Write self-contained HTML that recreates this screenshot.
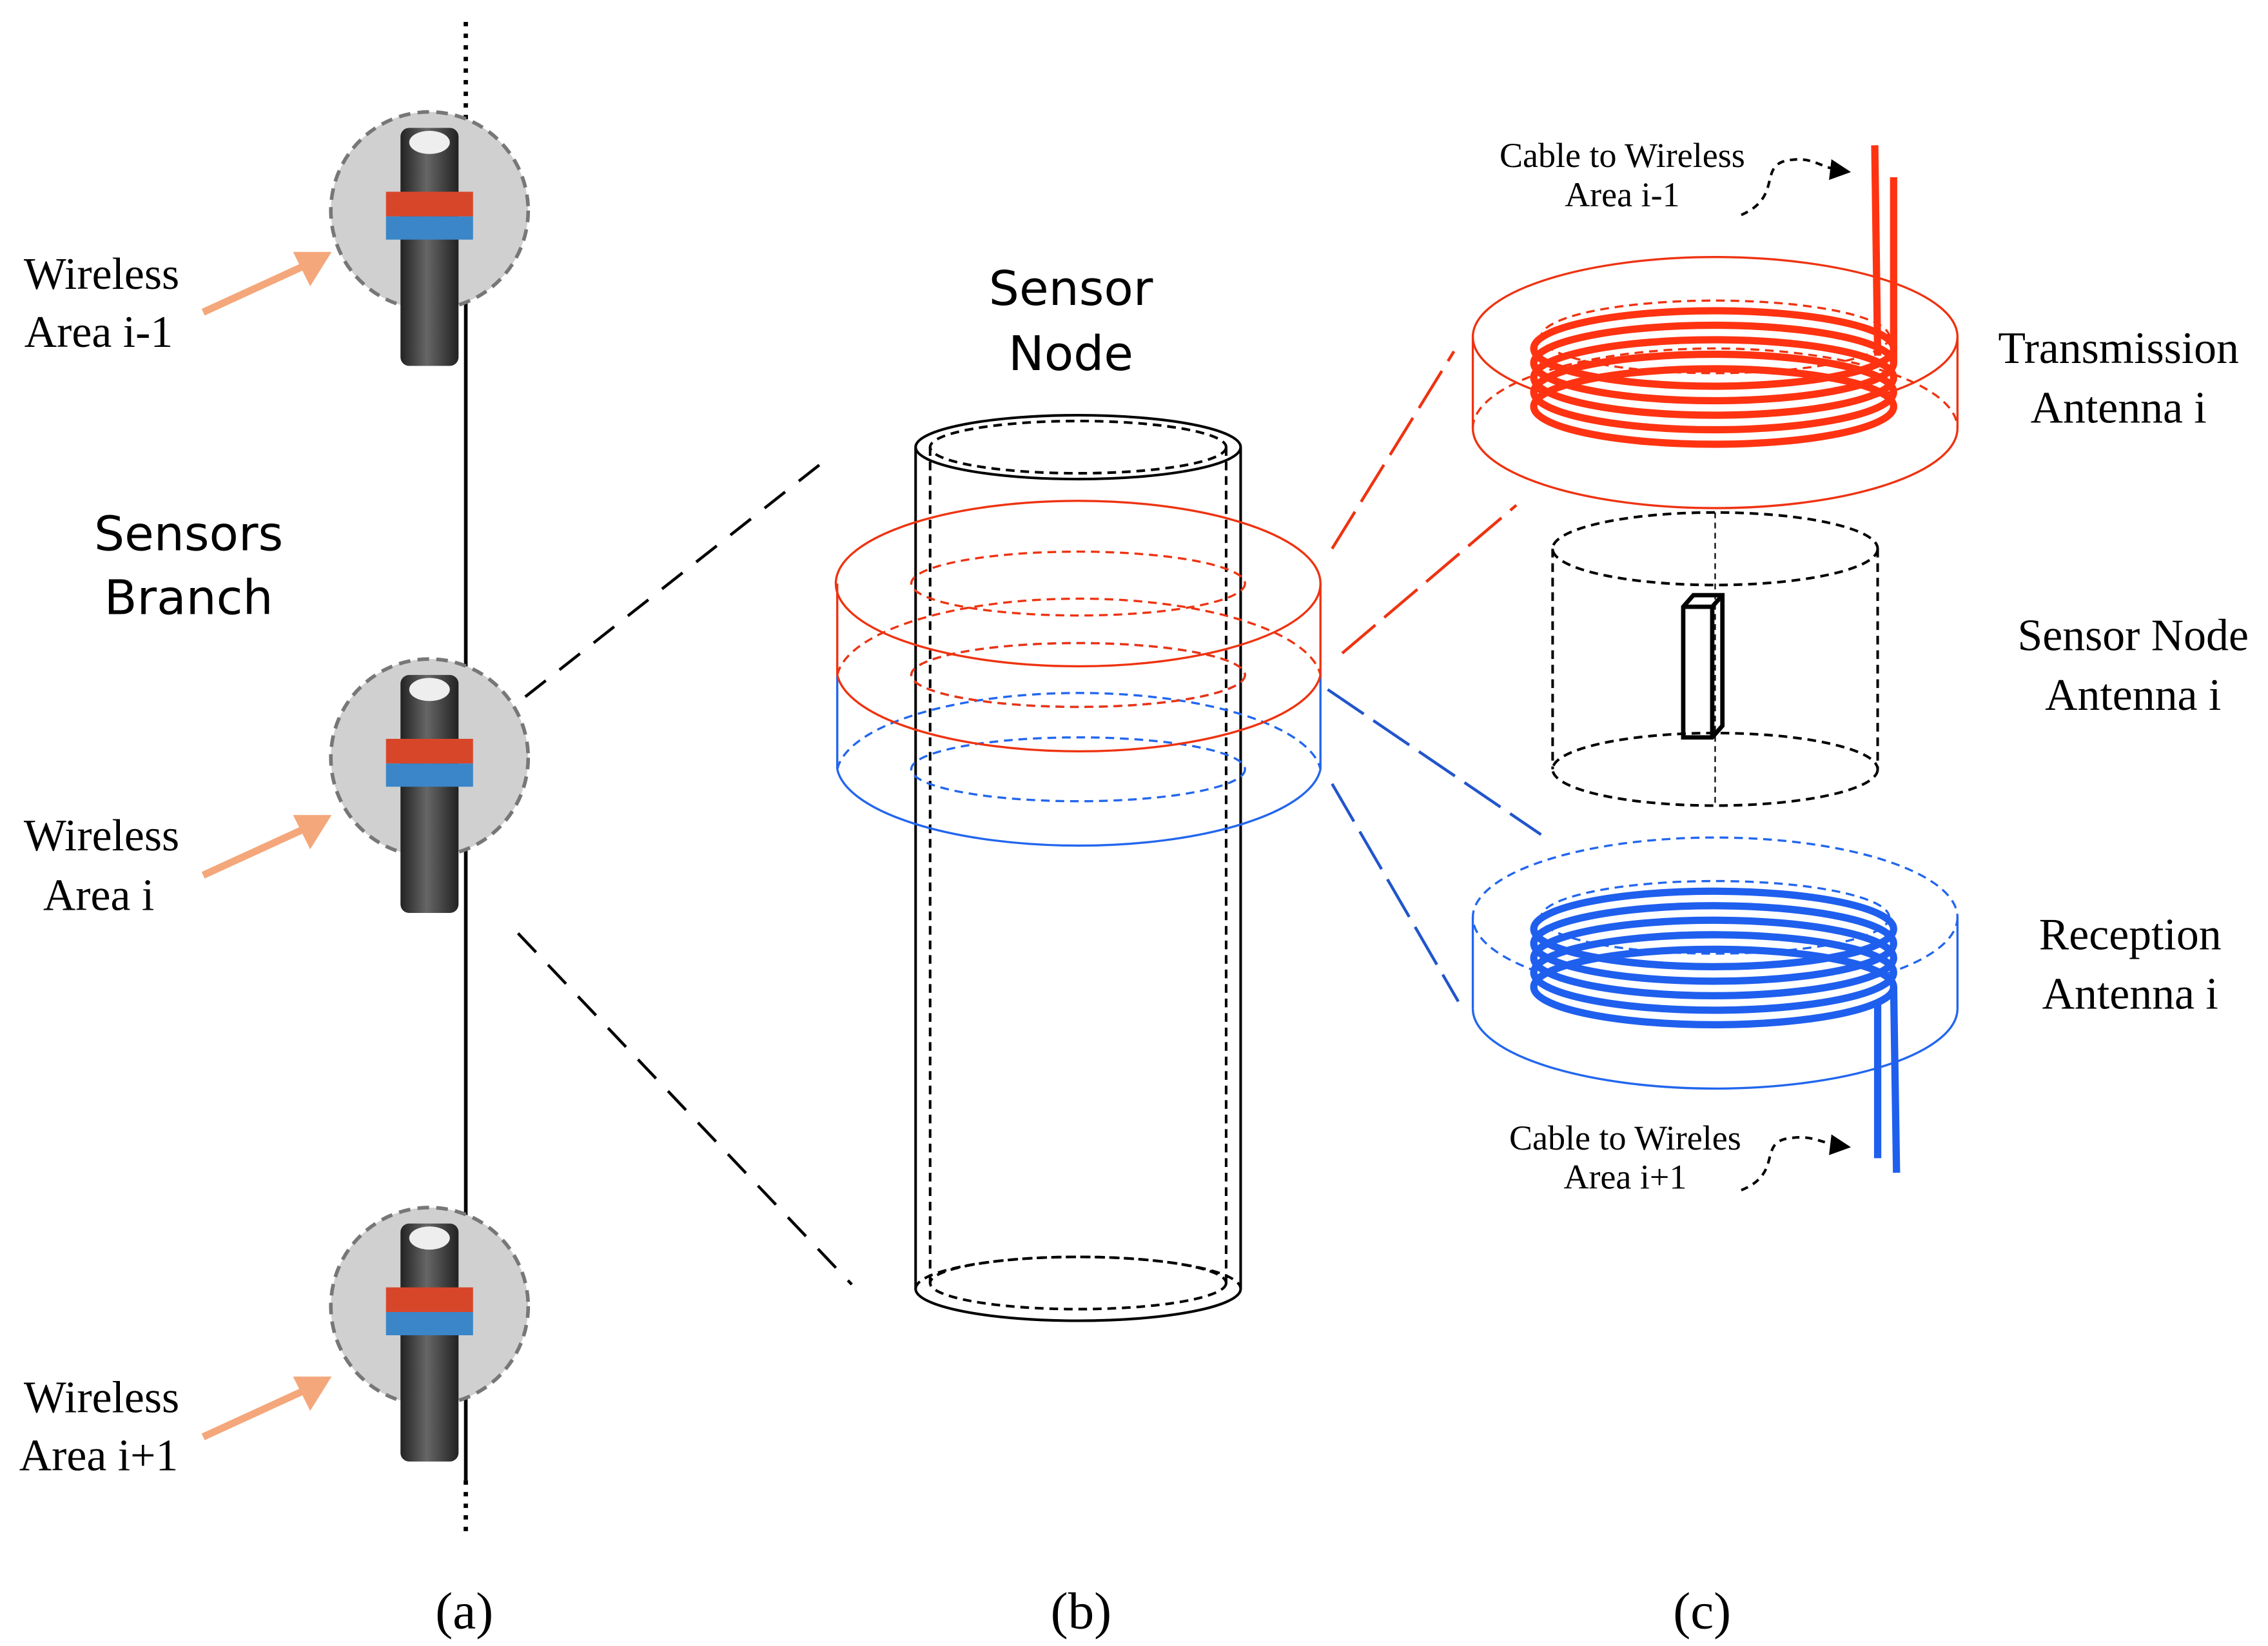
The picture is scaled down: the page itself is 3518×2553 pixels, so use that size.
<!DOCTYPE html>
<html><head><meta charset="utf-8"><style>html,body{margin:0;padding:0;background:#fff}svg{display:block}</style></head><body>
<svg width="3518" height="2553" viewBox="0 0 1563 1134" xmlns="http://www.w3.org/2000/svg">
<defs>
<linearGradient id="pg" x1="0" x2="1"><stop offset="0" stop-color="#222"/><stop offset=".45" stop-color="#666"/><stop offset="1" stop-color="#222"/></linearGradient>
<marker id="ah" markerWidth="8" markerHeight="8" refX="6" refY="4" orient="auto"><path d="M0,0L8,4L0,8z" fill="#000"/></marker>
</defs>
<rect width="1563" height="1134" fill="#fff"/>
<!-- vertical line -->
<line x1="321" y1="15" x2="321" y2="88" stroke="#000" stroke-width="3" stroke-dasharray="3,5"/>
<line x1="321" y1="88" x2="321" y2="1020" stroke="#000" stroke-width="2.5"/>
<line x1="321" y1="1020" x2="321" y2="1055" stroke="#000" stroke-width="3" stroke-dasharray="3,5"/>
<g id="s1">
<circle cx="296" cy="145" r="68" fill="#d0d0d0" stroke="#777" stroke-width="2.5" stroke-dasharray="8,5"/>
<rect x="276" y="88" width="40" height="164" rx="6" fill="url(#pg)"/>
<ellipse cx="296" cy="98" rx="14" ry="8" fill="#eee"/>
<rect x="266" y="132" width="60" height="17" fill="#d8462a"/>
<rect x="266" y="149" width="60" height="16" fill="#3a86c8"/>
</g>
<use href="#s1" y="377"/>
<use href="#s1" y="755"/>
<g stroke="#f4a77a" stroke-width="5" fill="#f4a77a">
<line x1="140" y1="215" x2="212" y2="182"/><path d="M224,176 L206,176 L214,192z"/>
<line x1="140" y1="603" x2="212" y2="570"/><path d="M224,564 L206,564 L214,580z"/>
<line x1="140" y1="990" x2="212" y2="957"/><path d="M224,951 L206,951 L214,967z"/>
</g>
<g font-family="Liberation Serif, serif" font-size="31" text-anchor="middle" fill="#000">
<text x="70" y="199">Wireless</text><text x="68" y="239">Area i-1</text>
<text x="70" y="586">Wireless</text><text x="68" y="627">Area i</text>
<text x="70" y="973">Wireless</text><text x="68" y="1013">Area i+1</text>
<text x="320" y="1122" font-size="36">(a)</text>
<text x="745" y="1122" font-size="36">(b)</text>
<text x="1173" y="1122" font-size="36">(c)</text>
<text x="1460" y="250">Transmission</text><text x="1460" y="291">Antenna i</text>
<text x="1470" y="448">Sensor Node</text><text x="1470" y="489">Antenna i</text>
<text x="1468" y="654">Reception</text><text x="1468" y="695">Antenna i</text>
<text x="1118" y="115" font-size="24">Cable to Wireless</text><text x="1118" y="142" font-size="24">Area i-1</text>
<text x="1120" y="792" font-size="24">Cable to Wireles</text><text x="1120" y="819" font-size="24">Area i+1</text>
</g>
<g font-family="DejaVu Sans, sans-serif" font-size="33" text-anchor="middle" fill="#000">
<text x="130" y="379">Sensors</text><text x="130" y="423">Branch</text>
<text x="738" y="210">Sensor</text><text x="738" y="255">Node</text>
</g>
<g stroke="#000" stroke-width="2" stroke-dasharray="18,12" fill="none">
<line x1="362" y1="480" x2="565" y2="320"/>
<line x1="357" y1="643" x2="587" y2="885"/>
</g>
<!-- cylinder b -->
<g fill="none" stroke="#000" stroke-width="1.8">
<ellipse cx="743" cy="308" rx="112" ry="22"/>
<line x1="631" y1="308" x2="631" y2="888"/><line x1="855" y1="308" x2="855" y2="888"/>
<path d="M631,888 A112,22 0 0 0 855,888"/>
<g stroke-dasharray="6,4">
<ellipse cx="743" cy="308" rx="102" ry="18"/>
<path d="M631,888 A112,22 0 0 1 855,888"/>
<ellipse cx="743" cy="884" rx="102" ry="18"/>
<line x1="641" y1="308" x2="641" y2="884"/><line x1="845" y1="308" x2="845" y2="884"/>
</g>
</g>
<!-- rings b -->
<g fill="none" stroke="#2266ee" stroke-width="1.5">
<line x1="577" y1="465" x2="577" y2="530"/><line x1="910" y1="465" x2="910" y2="530"/>
<path d="M577,530 A167,57 0 0 0 910,530"/>
<g stroke-dasharray="6,4"><path d="M577,530 A167,57 0 0 1 910,530"/><ellipse cx="743" cy="465" rx="115" ry="22"/><ellipse cx="743" cy="530" rx="115" ry="22"/></g>
</g>
<g fill="none" stroke="#ee3311" stroke-width="1.5">
<ellipse cx="743" cy="402" rx="167" ry="57"/>
<line x1="577" y1="402" x2="577" y2="465"/><line x1="910" y1="402" x2="910" y2="465"/>
<path d="M577,465 A167,57 0 0 0 910,465"/>
<g stroke-dasharray="6,4"><path d="M577,465 A167,57 0 0 1 910,465"/><ellipse cx="743" cy="402" rx="115" ry="22"/><ellipse cx="743" cy="465" rx="115" ry="22"/></g>
</g>
<!-- connectors -->
<g stroke-width="2" stroke-dasharray="30,8" fill="none">
<line x1="918" y1="378" x2="1002" y2="242" stroke="#ee3311"/>
<line x1="925" y1="450" x2="1045" y2="348" stroke="#ee3311"/>
<line x1="915" y1="475" x2="1062" y2="575" stroke="#2255cc"/>
<line x1="918" y1="540" x2="1005" y2="690" stroke="#2255cc"/>
</g>
<!-- transmission antenna -->
<g fill="none" stroke="#ee3311" stroke-width="1.5">
<ellipse cx="1182" cy="232" rx="167" ry="55"/>
<line x1="1015" y1="232" x2="1015" y2="295"/><line x1="1349" y1="232" x2="1349" y2="295"/>
<path d="M1015,295 A167,55 0 0 0 1349,295"/>
<g stroke-dasharray="6,4"><path d="M1015,295 A167,55 0 0 1 1349,295"/><ellipse cx="1182" cy="232" rx="120" ry="25"/></g>
</g>
<g fill="none" stroke="#ff3311" stroke-width="5">
<ellipse cx="1181" cy="240" rx="124" ry="26"/>
<ellipse cx="1181" cy="250" rx="124" ry="26"/>
<ellipse cx="1181" cy="260" rx="124" ry="26"/>
<ellipse cx="1181" cy="270" rx="124" ry="26"/>
<ellipse cx="1181" cy="280" rx="124" ry="26"/>
<line x1="1292" y1="100" x2="1294" y2="245"/><line x1="1305" y1="122" x2="1305" y2="250"/>
</g>
<!-- sensor node antenna -->
<g fill="none" stroke="#000" stroke-width="1.8" stroke-dasharray="6,4">
<ellipse cx="1182" cy="378" rx="112" ry="25"/>
<ellipse cx="1182" cy="530" rx="112" ry="25"/>
<line x1="1070" y1="378" x2="1070" y2="530"/><line x1="1294" y1="378" x2="1294" y2="530"/>
<line x1="1182" y1="353" x2="1182" y2="555" stroke-width="1" stroke-dasharray="4,3"/>
</g>
<g fill="none" stroke="#000" stroke-width="3">
<path d="M1160,418 L1167,410 L1187,410 L1187,500 L1180,508 L1160,508 Z M1160,418 L1180,418 L1187,410 M1180,418 L1180,508"/>
</g>
<!-- reception antenna -->
<g fill="none" stroke="#2266ee" stroke-width="1.5">
<line x1="1015" y1="632" x2="1015" y2="695"/><line x1="1349" y1="632" x2="1349" y2="695"/>
<path d="M1015,695 A167,55 0 0 0 1349,695"/>
<g stroke-dasharray="6,4"><ellipse cx="1182" cy="632" rx="167" ry="55"/><ellipse cx="1182" cy="632" rx="120" ry="25"/></g>
</g>
<g fill="none" stroke="#1f5fee" stroke-width="5">
<ellipse cx="1181" cy="640" rx="124" ry="26"/>
<ellipse cx="1181" cy="650" rx="124" ry="26"/>
<ellipse cx="1181" cy="660" rx="124" ry="26"/>
<ellipse cx="1181" cy="670" rx="124" ry="26"/>
<ellipse cx="1181" cy="680" rx="124" ry="26"/>
<line x1="1294" y1="690" x2="1294" y2="798"/><line x1="1305" y1="680" x2="1307" y2="808"/>
</g>
<!-- cable arrows -->
<g fill="none" stroke="#000" stroke-width="1.8" stroke-dasharray="5,4">
<path d="M1200,148 C1230,135 1210,112 1235,110 C1250,108 1255,116 1272,118" marker-end="url(#ah)"/>
<path d="M1200,820 C1230,808 1210,786 1235,784 C1250,782 1255,788 1272,790" marker-end="url(#ah)"/>
</g>
</svg>
</body></html>
